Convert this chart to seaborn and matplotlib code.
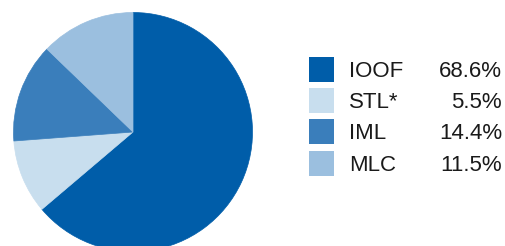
import matplotlib
matplotlib.use("Agg")
import matplotlib.pyplot as plt
import seaborn as sns
from matplotlib.patches import Rectangle

# Data
labels = ["IOOF", "STL*", "IML", "MLC"]
legend_pct = ["68.6%", "5.5%", "14.4%", "11.5%"]
# slice sizes as drawn in the picture (percent)
pie_values = [63.8, 10.0, 13.4, 12.8]
colors = ["#005DA9", "#C8DEEE", "#3A7EBB", "#9BBFDF"]

sns.set_theme(style="white")
plt.rcParams["font.family"] = ["Liberation Sans", "DejaVu Sans"]

W, H = 506, 246
fig = plt.figure(figsize=(W / 100, H / 100), dpi=100)
ax = fig.add_axes([0, 0, 1, 1])
ax.set_xlim(0, W)
ax.set_ylim(0, H)
ax.set_aspect("equal")
ax.axis("off")

wedges, _ = ax.pie(pie_values, colors=colors, startangle=90, counterclock=False,
                   center=(133, 114), radius=119.5,
                   wedgeprops=dict(linewidth=0.5))
for w in wedges:
    w.set_edgecolor(w.get_facecolor())
ax.set_xlim(0, W)
ax.set_ylim(0, H)

# Legend
top = 176.8
step = 31.3
for i, (lab, pct, c) in enumerate(zip(labels, legend_pct, colors)):
    yc = top - i * step
    ax.add_patch(Rectangle((309, yc - 12.5), 25, 25, facecolor=c, edgecolor="none"))
    ax.text(349, yc - 7.5, lab, fontsize=16, color="#1a1a1a", ha="left", va="baseline")
    ax.text(502, yc - 7.5, pct, fontsize=16, color="#1a1a1a", ha="right", va="baseline")

fig.savefig("out.png", dpi=100)
